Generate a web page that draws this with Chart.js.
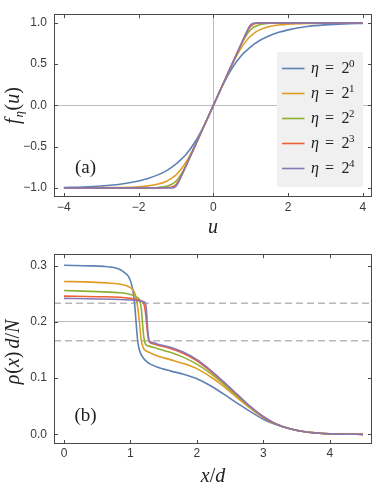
<!DOCTYPE html>
<html><head><meta charset="utf-8">
<script src="https://cdn.jsdelivr.net/npm/chart.js@4/dist/chart.umd.min.js"></script>
<style>
body{margin:0;background:#fff}
#wrap{position:relative;width:374px;height:489px;overflow:hidden}
canvas{position:absolute;left:0}
</style>
</head><body>
<div id="wrap">
<canvas id="ca" width="374" height="240" style="top:0"></canvas>
<canvas id="cb" width="374" height="249" style="top:240px"></canvas>
</div>
<script>
// ---------- data: panel (a) ----------
const uVals = [-4,-3.5,-3,-2.5,-2,-1.75,-1.5,-1.25,-1.1,-1.05,-1,-0.95,-0.9,-0.75,-0.5,-0.25,0,0.25,0.5,0.75,0.9,0.95,1,1.05,1.1,1.25,1.5,1.75,2,2.5,3,3.5,4];
const fEta1 = [-0.994,-0.988,-0.976,-0.955,-0.915,-0.885,-0.845,-0.790,-0.745,-0.728,-0.710,-0.690,-0.670,-0.605,-0.450,-0.245,0,0.245,0.450,0.605,0.670,0.690,0.710,0.728,0.745,0.790,0.845,0.885,0.915,0.955,0.976,0.988,0.994];
const fEta2 = [-0.999,-0.998,-0.997,-0.994,-0.985,-0.975,-0.956,-0.918,-0.878,-0.861,-0.841,-0.819,-0.793,-0.700,-0.493,-0.250,0,0.250,0.493,0.700,0.793,0.819,0.841,0.861,0.878,0.918,0.956,0.975,0.985,0.994,0.997,0.998,0.999];
const fEta4 = [-1,-1,-1,-1,-0.9995,-0.9986,-0.995,-0.981,-0.953,-0.937,-0.917,-0.891,-0.861,-0.741,-0.500,-0.250,0,0.250,0.500,0.741,0.861,0.891,0.917,0.937,0.953,0.981,0.995,0.9986,0.9995,1,1,1,1];
const fEta8 = [-1,-1,-1,-1,-1,-1,-1,-0.998,-0.988,-0.977,-0.958,-0.929,-0.891,-0.750,-0.500,-0.250,0,0.250,0.500,0.750,0.891,0.929,0.958,0.977,0.988,0.998,1,1,1,1,1,1,1];
const fEta16 = [-1,-1,-1,-1,-1,-1,-1,-1,-0.999,-0.994,-0.979,-0.945,-0.899,-0.750,-0.500,-0.250,0,0.250,0.500,0.750,0.899,0.945,0.979,0.994,0.999,1,1,1,1,1,1,1,1];
const uTicks = [-4,-2,0,2,4];
const uTickLabels = ['\u22124','\u22122','0','2','4'];
const fTicks = [-1,-0.5,0,0.5,1];
const fTickLabels = ['\u22121.0','\u22120.5','0.0','0.5','1.0'];
const etaExponents = ['0','1','2','3','4'];

// ---------- data: panel (b) ----------
const xB1 = [0,0.3,0.6,0.75,0.85,0.92,0.97,1.01,1.04,1.065,1.085,1.105,1.125,1.15,1.2,1.25,1.3,1.4,1.6,1.8,2.0,2.2,2.4,2.6,2.8,3.0,3.2,3.4,3.6,3.8,4.0,4.25,4.5];
const rhoB1 = [0.301,0.300,0.299,0.297,0.293,0.287,0.281,0.270,0.254,0.230,0.200,0.172,0.155,0.145,0.135,0.129,0.125,0.120,0.113,0.107,0.099,0.087,0.072,0.056,0.041,0.027,0.017,0.010,0.005,0.0025,0.001,0.0003,0.0001];
const xB2 = [0,0.4,0.7,0.85,0.95,1.0,1.04,1.08,1.11,1.135,1.16,1.19,1.23,1.3,1.4,1.6,1.8,2.0,2.2,2.4,2.6,2.8,3.0,3.2,3.4,3.6,3.8,4.0,4.25,4.5];
const rhoB2 = [0.272,0.271,0.269,0.267,0.264,0.261,0.257,0.246,0.226,0.200,0.170,0.155,0.149,0.145,0.140,0.133,0.126,0.117,0.103,0.086,0.066,0.047,0.030,0.018,0.010,0.005,0.0025,0.001,0.0003,0.0001];
const xB4 = [0,0.5,0.85,1.0,1.1,1.14,1.165,1.18,1.2,1.23,1.28,1.4,1.6,1.8,2.0,2.2,2.4,2.6,2.8,3.0,3.2,3.4,3.6,3.8,4.0,4.25,4.5];
const rhoB4 = [0.256,0.254,0.252,0.249,0.244,0.238,0.222,0.200,0.175,0.160,0.157,0.153,0.146,0.137,0.125,0.109,0.090,0.069,0.049,0.031,0.018,0.010,0.005,0.0025,0.001,0.0003,0.0001];
const xB8 = [0,0.5,0.85,1.0,1.1,1.18,1.21,1.23,1.245,1.265,1.29,1.35,1.4,1.6,1.8,2.0,2.2,2.4,2.6,2.8,3.0,3.2,3.4,3.6,3.8,4.0,4.25,4.5];
const rhoB8 = [0.246,0.245,0.244,0.242,0.240,0.236,0.229,0.213,0.195,0.173,0.164,0.161,0.159,0.153,0.144,0.131,0.113,0.093,0.071,0.050,0.031,0.018,0.010,0.005,0.0025,0.001,0.0003,0.0001];
const xB16 = [0,0.5,0.85,1.0,1.1,1.2,1.23,1.245,1.255,1.275,1.3,1.35,1.4,1.6,1.8,2.0,2.2,2.4,2.6,2.8,3.0,3.2,3.4,3.6,3.8,4.0,4.25,4.5];
const rhoB16 = [0.242,0.241,0.240,0.239,0.238,0.236,0.232,0.215,0.195,0.171,0.165,0.163,0.161,0.155,0.146,0.133,0.115,0.094,0.072,0.050,0.032,0.018,0.010,0.005,0.0025,0.001,0.0003,0.0001];
const refLevels = [0.2333, 0.1667];
const xTicksB = [0,1,2,3,4];
const xTickLabelsB = ['0','1','2','3','4'];
const rhoTicks = [0,0.1,0.2,0.3];
const rhoTickLabels = ['0.0','0.1','0.2','0.3'];

// ---------- styling ----------
const colors = ['#5E81B5','#E19C24','#8FB032','#EB6235','#8778B3'];
const FRAME = '#4a4a4a';
const LABEL = '#3a3a3a';
const SERIF = '"Liberation Serif", "DejaVu Serif", serif';
const SANS = '"Liberation Sans", Arial, sans-serif';
const AX_A = {xmin:-4.265, xmax:4.245, ymin:-1.11, ymax:1.105};
const AX_B = {xmin:-0.150, xmax:4.636, ymin:-0.0171, ymax:0.3206};

function pts(xs, ys){ return xs.map((x,i)=>({x:x, y:ys[i]})); }

function lineDs(label, data, color, order){
  return {label, data, borderColor:color, backgroundColor:color, borderWidth:1.6,
    pointRadius:0, showLine:true, cubicInterpolationMode:'monotone', order, fill:false};
}

function drawPieces(ctx, pieces, x, y, align){
  let total = 0;
  pieces.forEach(p=>{ ctx.font = p.f; total += ctx.measureText(p.t).width + (p.dx||0); });
  let cx = align==='center' ? x - total/2 : x;
  pieces.forEach(p=>{ ctx.font = p.f; ctx.fillText(p.t, cx, y + (p.dy||0)); cx += ctx.measureText(p.t).width + (p.dx||0); });
}

function framePlugin(xTicks, yTicks){
  return {
    id:'frameTicks',
    afterDraw(chart){
      const {ctx, chartArea:a, scales} = chart;
      ctx.save();
      ctx.strokeStyle = FRAME; ctx.lineWidth = 1;
      ctx.strokeRect(Math.round(a.left)+0.5, Math.round(a.top)+0.5, Math.round(a.right-a.left)-1, Math.round(a.bottom-a.top)-1);
      const L = 4;
      ctx.beginPath();
      xTicks.forEach(v=>{
        const px = Math.round(scales.x.getPixelForValue(v))+0.5;
        ctx.moveTo(px, a.bottom); ctx.lineTo(px, a.bottom-L);
        ctx.moveTo(px, a.top); ctx.lineTo(px, a.top+L);
      });
      yTicks.forEach(v=>{
        const py = Math.round(scales.y.getPixelForValue(v))+0.5;
        ctx.moveTo(a.left, py); ctx.lineTo(a.left+L, py);
        ctx.moveTo(a.right, py); ctx.lineTo(a.right-L, py);
      });
      ctx.stroke();
      ctx.restore();
    }
  };
}

function titlePlugin(drawFn){
  return { id:'titles', afterDraw(chart){ const ctx = chart.ctx; ctx.save(); ctx.fillStyle = '#222'; ctx.textBaseline='alphabetic'; drawFn(ctx, chart); ctx.restore(); } };
}

const legendPlugin = {
  id:'etaLegend',
  afterDatasetsDraw(chart){
    const ctx = chart.ctx;
    ctx.save();
    ctx.fillStyle = '#f0f0f0';
    ctx.fillRect(277, 52, 86, 135);
    chart.data.datasets.forEach((ds, i)=>{
      const y = 68.5 + i*25;
      ctx.strokeStyle = ds.borderColor; ctx.lineWidth = 1.6;
      ctx.beginPath(); ctx.moveTo(282, y); ctx.lineTo(304.5, y); ctx.stroke();
      ctx.fillStyle = '#222'; ctx.textBaseline = 'alphabetic';
      ctx.font = 'italic 16px ' + SERIF; ctx.fillText('\u03B7', 311, y+4);
      ctx.font = '16px ' + SERIF; ctx.fillText('=', 325, y+4);
      ctx.fillText('2', 341.5, y+4);
      ctx.font = '11px ' + SERIF; ctx.fillText(ds.exp, 349, y-2);
    });
    ctx.restore();
  }
};

function scaleCfg(range, ticks, labels, pad, gridVals, fitKey, fitVal){
  return {
    type:'linear', min:range[0], max:range[1],
    afterBuildTicks: s => { s.ticks = ticks.map(v=>({value:v})); },
    afterFit: s => { s[fitKey] = fitVal; },
    ticks:{ callback:(v,i)=>labels[i], padding:pad, autoSkip:false, maxRotation:0, color:LABEL, font:{family:SANS, size:12} },
    grid:{ drawTicks:false, lineWidth:1, color: c => (c.tick && gridVals.includes(c.tick.value)) ? '#bdbdbd' : 'rgba(0,0,0,0)' },
    border:{ display:false }
  };
}

Chart.defaults.animation = false;

// ---------- chart (a) ----------
const dsA = [fEta1,fEta2,fEta4,fEta8,fEta16].map((f,i)=>{
  const d = lineDs('\u03B7 = 2^' + etaExponents[i], pts(uVals, f), colors[i], 5-i);
  d.exp = etaExponents[i];
  return d;
});
new Chart(document.getElementById('ca'), {
  type:'scatter',
  data:{ datasets: dsA },
  options:{
    responsive:false, devicePixelRatio:1, animation:false,
    layout:{ padding:{top:1, right:2, left:0, bottom:0} },
    plugins:{ legend:{display:false}, tooltip:{enabled:false} },
    scales:{
      x: scaleCfg([AX_A.xmin, AX_A.xmax], uTicks, uTickLabels, 3, [0], 'height', 43),
      y: scaleCfg([AX_A.ymin, AX_A.ymax], fTicks, fTickLabels, 7, [0], 'width', 54)
    }
  },
  plugins:[legendPlugin, framePlugin(uTicks, fTicks), titlePlugin((ctx, chart)=>{
    const a = chart.chartArea;
    drawPieces(ctx, [{t:'u', f:'italic 20px '+SERIF}], (a.left+a.right)/2, 233, 'center');
    ctx.save(); ctx.translate(19, (a.top+a.bottom)/2); ctx.rotate(-Math.PI/2);
    drawPieces(ctx, [
      {t:'f', f:'italic 20px '+SERIF, dx:1},
      {t:'\u03B7', f:'italic 13px '+SERIF, dy:4, dx:0.5},
      {t:'(', f:'20px '+SERIF},
      {t:'u', f:'italic 20px '+SERIF},
      {t:')', f:'20px '+SERIF}
    ], 0, 0, 'center');
    ctx.restore();
    drawPieces(ctx, [{t:'(a)', f:'19px '+SERIF}], 85.5, 173, 'center');
  })]
});

// ---------- chart (b) ----------
const seriesB = [[xB1,rhoB1],[xB2,rhoB2],[xB4,rhoB4],[xB8,rhoB8],[xB16,rhoB16]];
const dsB = seriesB.map((s,i)=> lineDs('\u03B7 = 2^' + etaExponents[i], pts(s[0], s[1]), colors[i], 5-i));
refLevels.forEach(v=>{
  dsB.push({label:'ref', data:[{x:AX_B.xmin, y:v},{x:AX_B.xmax, y:v}], borderColor:'#b8b8b8', borderWidth:1.5,
    borderDash:[7,4], pointRadius:0, showLine:true, order:10, fill:false});
});
new Chart(document.getElementById('cb'), {
  type:'scatter',
  data:{ datasets: dsB },
  options:{
    responsive:false, devicePixelRatio:1, animation:false,
    layout:{ padding:{top:7, right:2, left:0, bottom:0} },
    plugins:{ legend:{display:false}, tooltip:{enabled:false} },
    scales:{
      x: scaleCfg([AX_B.xmin, AX_B.xmax], xTicksB, xTickLabelsB, 2, [], 'height', 45),
      y: scaleCfg([AX_B.ymin, AX_B.ymax], rhoTicks, rhoTickLabels, 7, [0.2], 'width', 54)
    }
  },
  plugins:[framePlugin(xTicksB, rhoTicks), titlePlugin((ctx, chart)=>{
    const a = chart.chartArea;
    drawPieces(ctx, [
      {t:'x', f:'italic 20px '+SERIF},
      {t:'/', f:'20px '+SERIF},
      {t:'d', f:'italic 20px '+SERIF}
    ], (a.left+a.right)/2, 242, 'center');
    ctx.save(); ctx.translate(19, 112); ctx.rotate(-Math.PI/2);
    drawPieces(ctx, [
      {t:'\u03C1', f:'italic 20px '+SERIF, dx:1},
      {t:'(', f:'20px '+SERIF},
      {t:'x', f:'italic 20px '+SERIF},
      {t:')', f:'20px '+SERIF, dx:3},
      {t:'d', f:'italic 20px '+SERIF},
      {t:'/', f:'20px '+SERIF},
      {t:'N', f:'italic 20px '+SERIF}
    ], 0, 0, 'center');
    ctx.restore();
    drawPieces(ctx, [{t:'(b)', f:'19px '+SERIF}], 85.5, 181, 'center');
  })]
});
</script>
</body></html>
